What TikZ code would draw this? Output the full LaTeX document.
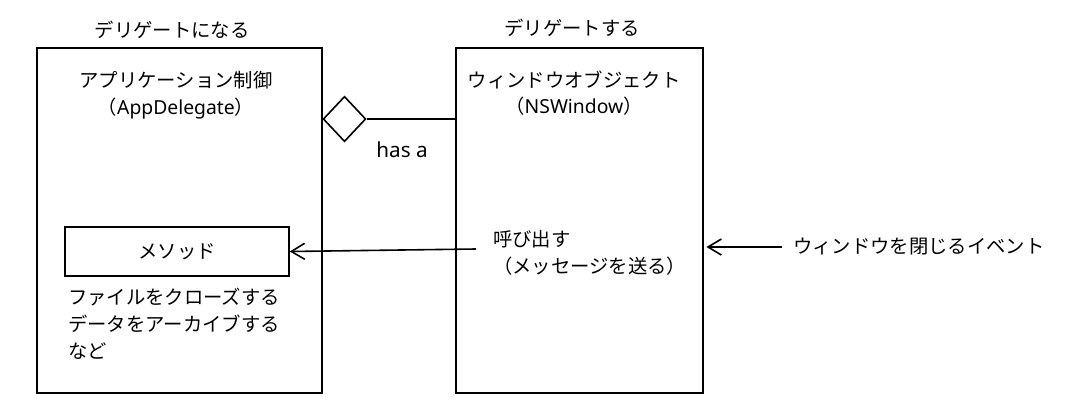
\documentclass[tikz,border=0pt]{standalone}
\usepackage{fontspec}
\setmainfont{Noto Sans CJK JP}
\newfontfamily\latinfont{Noto Sans}
\usetikzlibrary{arrows.meta,shapes.geometric}

\begin{document}
\begin{tikzpicture}[x=0.75pt,y=-0.75pt,
    every node/.style={font=\fontsize{14.5}{20}\selectfont},
    box/.style={draw,line width=1.2pt,inner sep=0pt},
    txt/.style={inner sep=0pt},
    arr/.style={line width=1.2pt,-{Straight Barb[length=10pt,width=12pt,line width=1.2pt]}}]
  \useasboundingbox (0,0) rectangle (1065,408);
  \begin{scope}
    \node[box,minimum width=213.75pt,minimum height=258.75pt] (app) at (179.5,220.5) {};
    \node[txt] (apptitle) at (172,30) {デリゲートになる};
    \node[txt,align=center] (appname) at (176,95) {アプリケーション制御\\（{\latinfont AppDelegate}）};
    \node[box,minimum width=168pt,minimum height=36.75pt] (method) at (177,251.5) {メソッド};
    \node[txt,anchor=north west,align=left] (notes) at (68,288) {ファイルをクローズする\\データをアーカイブする\\など};
  \end{scope}
  \begin{scope}
    \node[box,minimum width=185.25pt,minimum height=258.75pt] (win) at (579.5,220.5) {};
    \node[txt] (wintitle) at (572,28) {デリゲートする};
    \node[txt,align=center] (winname) at (574,93) {ウィンドウオブジェクト\\（{\latinfont NSWindow}）};
    \node[txt,anchor=north west,align=left] (call) at (493,230) {呼び出す\\（メッセージを送る）};
    \coordinate (callpt) at (476,249);
  \end{scope}
  \node[diamond,draw,line width=1.2pt,inner sep=0pt,minimum width=32pt,minimum height=34pt] (has) at (344.5,119) {};
  \node[txt,font=\fontsize{15.5}{20}\latinfont] (hasa) at (402,150) {has a};
  \node[txt,anchor=west] (event) at (793,247) {ウィンドウを閉じるイベント};
  \draw[line width=1.2pt] (has.east) -- (has.east -| win.west);
  \draw[arr] (callpt) -- (method.east);
  \draw[arr,shorten >=2pt,shorten <=8pt] (event.west) -- (event.west -| win.east);
\end{tikzpicture}
\end{document}
